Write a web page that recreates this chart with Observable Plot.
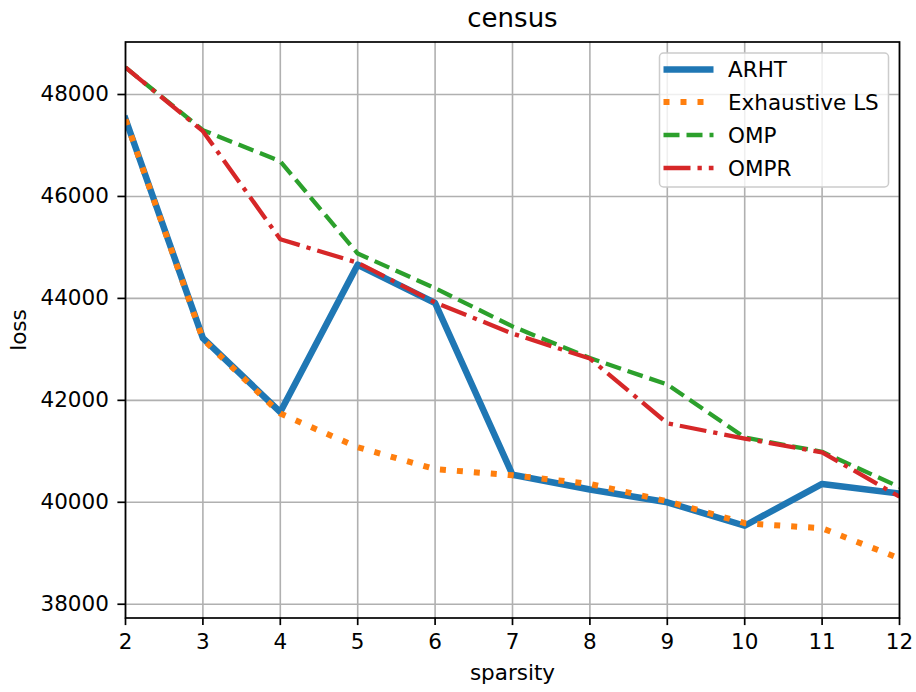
<!DOCTYPE html>
<html>
<head>
<meta charset="utf-8">
<script src="https://cdn.jsdelivr.net/npm/d3@7"></script>
<script src="https://cdn.jsdelivr.net/npm/@observablehq/plot@0.6"></script>
<style>
  html, body { margin: 0; padding: 0; background: #fff; }
  #chart svg { display: block; }
</style>
</head>
<body>
<div id="chart"></div>
<script>
// Loss versus sparsity on the census dataset
const sparsity = [2, 3, 4, 5, 6, 7, 8, 9, 10, 11, 12];
const arht       = [47520, 43220, 41770, 44660, 43910, 40540, 40250, 40000, 39540, 40360, 40170];
const exhaustive = [47510, 43200, 41740, 41080, 40650, 40530, 40360, 40020, 39590, 39490, 38900];
const omp        = [48530, 47300, 46690, 44880, 44200, 43450, 42830, 42310, 41270, 40990, 40300];
const ompr       = [48530, 47280, 45160, 44700, 43920, 43310, 42820, 41550, 41250, 40980, 40110];

const seriesNames = ["ARHT", "Exhaustive LS", "OMP", "OMPR"];
const seriesValues = [arht, exhaustive, omp, ompr];
const seriesColors = ["#1f77b4", "#ff7f0e", "#2ca02c", "#d62728"];

const xTicks = sparsity;
const yTicks = [38000, 40000, 42000, 44000, 46000, 48000];

// line styles: solid, dotted, dashed, dash-dot
const lineStyle = {
  "ARHT":          {width: 6.5, dash: null},
  "Exhaustive LS": {width: 6,   dash: "6,11"},
  "OMP":           {width: 4.3, dash: "16,7"},
  "OMPR":          {width: 4.3, dash: "27,7,4.3,7"}
};

const rows = seriesNames.flatMap((name, i) =>
  sparsity.map((s, j) => ({name, sparsity: s, loss: seriesValues[i][j]}))
);

const font = "DejaVu Sans, sans-serif";
const W = 916, H = 692;
const mL = 125, mR = 17, mT = 41.5, mB = 74.5;

const lineMarks = seriesNames.map((name, i) =>
  Plot.line(rows.filter(d => d.name === name), {
    x: "sparsity", y: "loss",
    stroke: seriesColors[i],
    strokeWidth: lineStyle[name].width,
    strokeDasharray: lineStyle[name].dash,
    strokeLinejoin: "round",
    strokeLinecap: lineStyle[name].dash ? "butt" : "square",
    clip: true
  })
);

const svg = Plot.plot({
  width: W, height: H,
  marginLeft: mL, marginRight: mR, marginTop: mT, marginBottom: mB,
  style: {fontFamily: font, color: "black", background: "white"},
  x: {domain: [2, 12]},
  y: {domain: [37730, 49030]},
  marks: [
    Plot.gridX(xTicks, {stroke: "#b0b0b0", strokeOpacity: 1, strokeWidth: 1.6}),
    Plot.gridY(yTicks, {stroke: "#b0b0b0", strokeOpacity: 1, strokeWidth: 1.6}),
    ...lineMarks,
    Plot.frame({stroke: "black", strokeWidth: 1.7}),
    Plot.axisX(xTicks, {
      tickSize: 7.6, tickPadding: 8, strokeWidth: 1.7, fontSize: 21.5,
      tickFormat: d => String(d), label: null
    }),
    Plot.axisY(yTicks, {
      tickSize: 7.6, tickPadding: 9, strokeWidth: 1.7, fontSize: 21.5,
      tickFormat: d3.format("d"), label: null
    }),
    Plot.text(["sparsity"], {frameAnchor: "bottom", dy: 55, fontSize: 21.5, textAnchor: "middle", lineAnchor: "middle"}),
    Plot.text(["loss"], {frameAnchor: "left", dx: -106, rotate: -90, fontSize: 21.5, textAnchor: "middle", lineAnchor: "middle"}),
    Plot.text(["census"], {frameAnchor: "top", dy: -23, fontSize: 26, textAnchor: "middle", lineAnchor: "middle"})
  ]
});

// legend box in the upper-right corner of the axes
const legendX = 659.5, legendY = 53, legendW = 229, legendH = 134;
const rowY = [69.5, 102, 135, 168];
const g = d3.select(svg).append("g")
  .attr("font-family", font)
  .attr("font-size", 21.5)
  .attr("text-anchor", "start");
g.append("rect")
  .attr("x", legendX).attr("y", legendY)
  .attr("width", legendW).attr("height", legendH)
  .attr("rx", 4).attr("ry", 4)
  .attr("fill", "white").attr("fill-opacity", 0.8)
  .attr("stroke", "#cccccc").attr("stroke-width", 1.5);
seriesNames.forEach((name, i) => {
  const st = lineStyle[name];
  g.append("line")
    .attr("x1", 663.5).attr("x2", 713.5)
    .attr("y1", rowY[i]).attr("y2", rowY[i])
    .attr("stroke", seriesColors[i])
    .attr("stroke-width", st.width)
    .attr("stroke-dasharray", st.dash)
    .attr("stroke-linecap", "butt");
  g.append("text")
    .attr("x", 728).attr("y", rowY[i]).attr("dy", "0.36em")
    .attr("text-anchor", "start")
    .attr("fill", "black")
    .text(name);
});

document.getElementById("chart").appendChild(svg);
</script>
</body>
</html>
